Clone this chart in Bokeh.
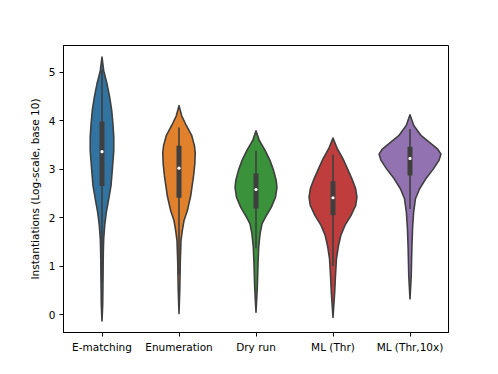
from bokeh.plotting import figure
from bokeh.models import Range1d, FixedTicker
from bokeh.embed import file_html
from bokeh.resources import INLINE

categories = ["E-matching", "Enumeration", "Dry run", "ML (Thr)", "ML (Thr,10x)"]
colors = ["#3274a1", "#e1812c", "#3a923a", "#c03d3e", "#9372b2"]

# violin outlines: y (log10 instantiations) and half-width (x units)
ematch_y = [5.31, 5.03, 4.76, 4.48, 4.21, 3.93, 3.66, 3.38, 2.97, 2.66, 2.38, 2.11, 1.84, 1.56, 1.29, 0.7, 0.2, -0.13]
ematch_w = [0, 0.022, 0.065, 0.100, 0.126, 0.142, 0.153, 0.153, 0.133, 0.117, 0.087, 0.056, 0.035, 0.022, 0.017, 0.013, 0.009, 0]
enum_y = [4.31, 4.10, 3.90, 3.69, 3.48, 3.33, 3.10, 2.87, 2.63, 2.45, 2.14, 1.94, 1.73, 1.53, 1.1, 0.5, 0.02]
enum_w = [0, 0.035, 0.095, 0.166, 0.201, 0.211, 0.205, 0.190, 0.168, 0.152, 0.108, 0.065, 0.043, 0.026, 0.017, 0.010, 0]
dry_y = [3.79, 3.59, 3.38, 3.18, 2.97, 2.76, 2.62, 2.42, 2.21, 2.01, 1.87, 1.66, 1.39, 1.05, 0.56, 0.05]
dry_w = [0, 0.043, 0.120, 0.181, 0.229, 0.263, 0.272, 0.253, 0.198, 0.123, 0.078, 0.052, 0.035, 0.026, 0.017, 0]
mlthr_y = [3.64, 3.42, 3.21, 3.00, 2.80, 2.60, 2.42, 2.25, 2.04, 1.84, 1.63, 1.42, 1.15, 0.80, 0.46, -0.06]
mlthr_w = [0, 0.056, 0.130, 0.190, 0.246, 0.294, 0.311, 0.295, 0.233, 0.155, 0.101, 0.071, 0.045, 0.032, 0.022, 0]
ml10_y = [4.12, 3.90, 3.69, 3.55, 3.42, 3.31, 3.18, 3.00, 2.80, 2.59, 2.39, 2.11, 1.77, 1.36, 0.80, 0.32]
ml10_w = [0, 0.049, 0.146, 0.253, 0.356, 0.402, 0.376, 0.302, 0.205, 0.123, 0.071, 0.047, 0.033, 0.024, 0.016, 0]

profiles_y = [ematch_y, enum_y, dry_y, mlthr_y, ml10_y]
profiles_w = [ematch_w, enum_w, dry_w, mlthr_w, ml10_w]

# inner box statistics
q1 = [2.65, 2.41, 2.19, 2.05, 2.87]
q3 = [3.98, 3.48, 2.91, 2.75, 3.46]
median = [3.36, 3.02, 2.58, 2.41, 3.22]
whisk_lo = [0.65, 0.81, 1.37, 1.00, 2.18]
whisk_hi = [5.05, 3.86, 3.38, 3.30, 3.83]

y_ticks = [0, 1, 2, 3, 4, 5]

gray = "#3f3f3f"
FONT = "DejaVu Sans"
FS = "10.5px"

p = figure(width=482, height=358, output_backend="svg", toolbar_location=None,
           x_range=Range1d(-0.5, 4.5), y_range=Range1d(-0.37, 5.55),
           min_border_left=63, min_border_right=34, min_border_top=45, min_border_bottom=26)
p.grid.visible = False
p.background_fill_color = "white"
p.border_fill_color = "white"
p.outline_line_color = "black"
p.outline_line_width = 1

for i, (ys, ws) in enumerate(zip(profiles_y, profiles_w)):
    xs = [i + w for w in ws] + [i - w for w in reversed(ws)]
    yy = list(ys) + list(reversed(ys))
    p.patch(xs, yy, fill_color=colors[i], line_color=gray, line_width=1.6, line_join="round")

idx = list(range(len(categories)))
p.segment(x0=idx, y0=whisk_lo, x1=idx, y1=whisk_hi, line_color=gray, line_width=1.6)
p.segment(x0=idx, y0=q1, x1=idx, y1=q3, line_color=gray, line_width=5, line_cap="butt")
p.scatter(x=idx, y=median, size=3.2, fill_color="white", line_color=None)

for ax in (p.xaxis[0], p.yaxis[0]):
    ax.axis_line_color = "black"
    ax.axis_line_width = 1
    ax.major_tick_line_color = "black"
    ax.major_tick_out = 4
    ax.major_tick_in = 0
    ax.minor_tick_line_color = None
    ax.major_label_text_font = FONT
    ax.major_label_text_font_size = FS
    ax.major_label_text_color = "black"

p.xaxis.ticker = FixedTicker(ticks=idx)
p.xaxis.major_label_overrides = {i: c for i, c in enumerate(categories)}
p.xaxis.major_label_standoff = 4
p.yaxis.ticker = FixedTicker(ticks=y_ticks)
p.yaxis.major_label_standoff = 4
p.yaxis.axis_label = "Instantiations (Log-scale, base 10)"
p.yaxis.axis_label_text_font = FONT
p.yaxis.axis_label_text_font_size = FS
p.yaxis.axis_label_text_font_style = "normal"
p.yaxis.axis_label_text_color = "black"
p.yaxis.axis_label_standoff = 5

open("out.html", "w").write(file_html(p, INLINE))
